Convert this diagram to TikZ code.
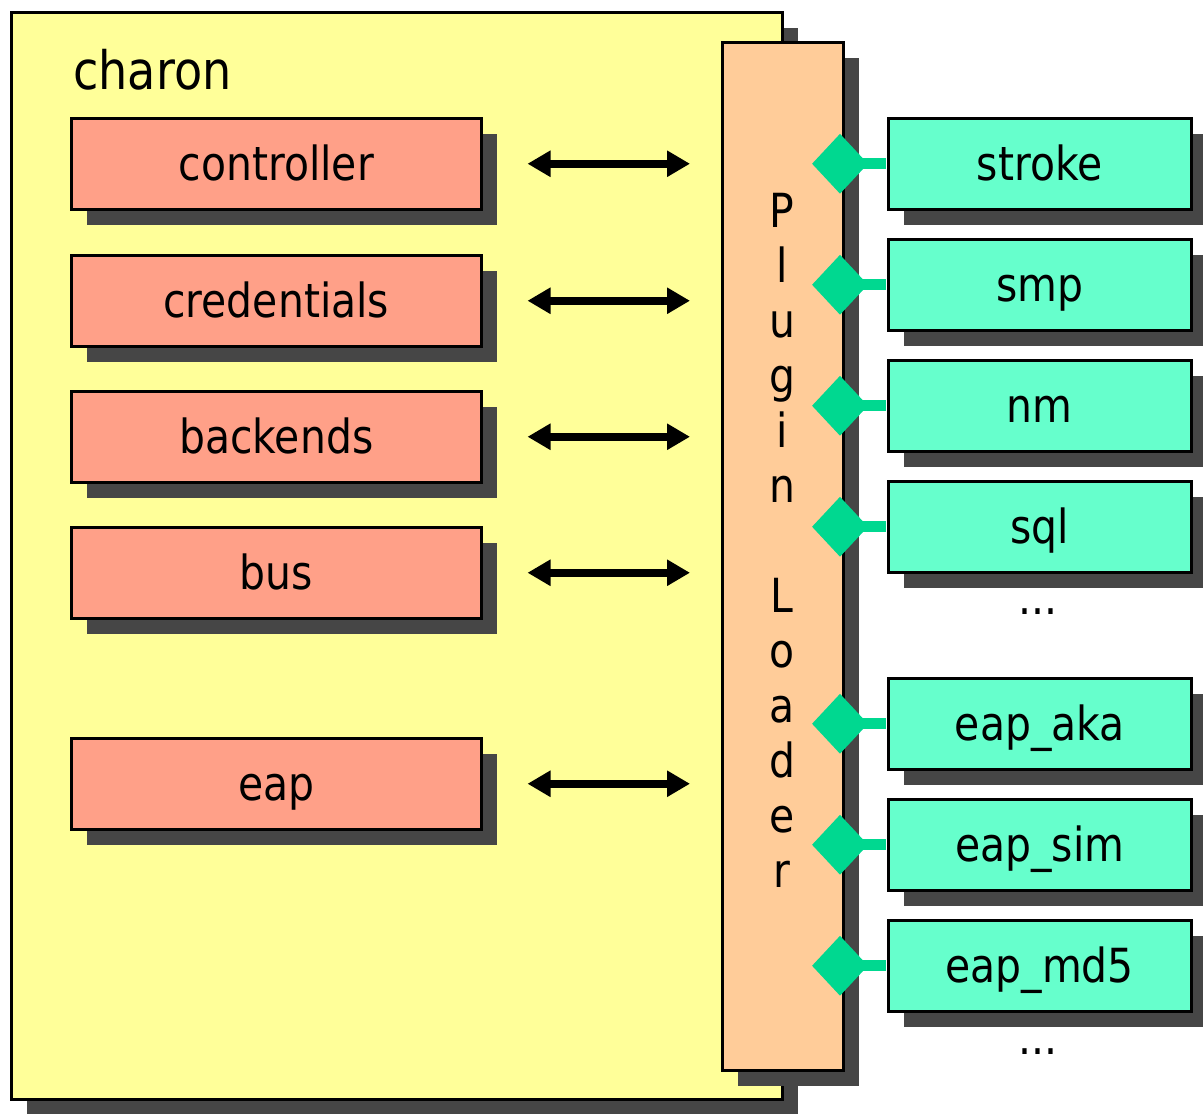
\documentclass[tikz,border=0pt]{standalone}
\usepackage{fontspec}
\setmainfont{DejaVu Sans}[FakeStretch=0.87]
\usetikzlibrary{shapes.geometric,arrows.meta,shadows}
\definecolor{charonyellow}{HTML}{FFFF99}
\definecolor{compred}{HTML}{FFA088}
\definecolor{loaderorange}{HTML}{FFCC99}
\definecolor{plugingreen}{HTML}{66FFCC}
\definecolor{diamondgreen}{HTML}{00D890}
\definecolor{shadowgray}{HTML}{464646}
\newcommand\lblfont{\fontsize{47}{55}\selectfont}
\tikzset{
  shadowed/.style={drop shadow={shadow xshift=16pt, shadow yshift=-16pt, fill=shadowgray, opacity=1}},
  basebox/.style={draw, line width=2.5pt, inner sep=0pt, anchor=north west, font=\lblfont, shadowed},
  labelbox/.style={basebox, text height=38pt, text depth=4pt},
  redbox/.style={labelbox, fill=compred, minimum width=410pt, minimum height=91pt},
  greenbox/.style={labelbox, fill=plugingreen, minimum width=303pt, minimum height=91pt},
  plug/.style={diamond, fill=diamondgreen, minimum width=56pt, minimum height=60pt, inner sep=0pt},
  stub/.style={line width=11pt, diamondgreen},
  biarrow/.style={line width=8pt, {Triangle[length=23pt,width=25pt]}-{Triangle[length=23pt,width=25pt]}},
  dots/.style={font=\lblfont}
}
\begin{document}
\begin{tikzpicture}[x=1pt,y=-1pt]
\useasboundingbox (0,0) rectangle (1203,1114);
% charon container
\node[basebox, fill=charonyellow, minimum width=771pt, minimum height=1087pt] (charon) at (10,11) {};
\node[anchor=base west, font=\fontsize{53}{60}\selectfont, inner sep=0pt] (charonlbl) at (73,89) {charon};
% plugin loader
\node[basebox, fill=loaderorange, minimum width=121pt, minimum height=1028pt] (loader) at (721,41) {};
\node[align=center, font=\lblfont, inner sep=0pt] (loaderlbl) at (782,540) {P\\l\\u\\g\\i\\n\\[55pt]L\\o\\a\\d\\e\\r};
% charon components
\node[redbox] (controller) at (70,117) {controller};
\node[redbox] (credentials) at (70,254) {credentials};
\node[redbox] (backends) at (70,390) {backends};
\node[redbox] (bus) at (70,526) {bus};
\node[redbox] (eap) at (70,737) {eap};
\foreach \n in {controller,credentials,backends,bus,eap}{
  \draw[biarrow] ([xshift=45pt]\n.east) -- ([xshift=-31pt]loader.west |- \n.east);
}
% plugins
\node[greenbox] (stroke) at (887,117) {stroke};
\node[greenbox] (smp) at (887,238) {smp};
\node[greenbox] (nm) at (887,359) {nm};
\node[greenbox] (sql) at (887,480) {sql};
\node[dots] (dotsa) at (1038,612) {...};
\node[greenbox] (eapaka) at (887,677) {eap\_aka};
\node[greenbox] (eapsim) at (887,798) {eap\_sim};
\node[greenbox] (eapmd5) at (887,919) {eap\_md5};
\node[dots] (dotsb) at (1038,1052) {...};
\foreach \n in {stroke,smp,nm,sql,eapaka,eapsim,eapmd5}{
  \node[plug] (d\n) at (840,0 |- \n.west) {};
  \draw[stub] (d\n.center) -- ([xshift=-1.25pt]\n.west);
}
\end{tikzpicture}
\end{document}
